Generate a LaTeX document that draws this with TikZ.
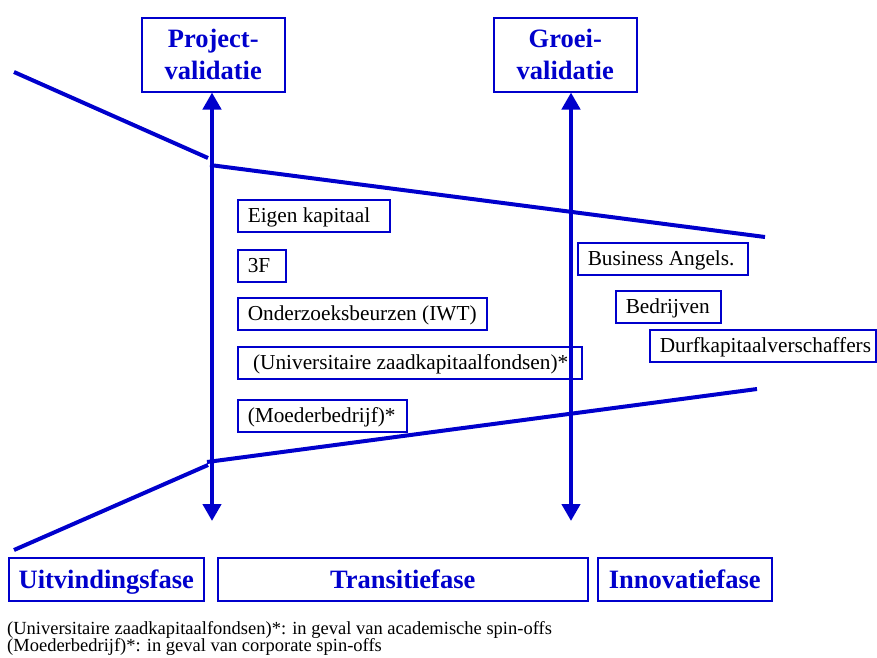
\documentclass[tikz,border=0pt]{standalone}
\usepackage{fontspec}
\setmainfont{Liberation Serif}
\usetikzlibrary{arrows.meta}
\definecolor{fasblue}{RGB}{0,0,204}
\tikzset{
  valbox/.style={draw=fasblue, line width=1.5pt, text=fasblue, font=\fontsize{26.5}{32}\selectfont\bfseries,
    align=center, minimum width=143pt, minimum height=74pt, anchor=north west, inner sep=0pt},
  fundbox/.style={draw=fasblue, line width=1.5pt, font=\fontsize{21.3}{26}\selectfont, inner xsep=10pt,
    inner ysep=0pt, minimum height=32pt, text height=17pt, text depth=3pt, anchor=north west},
  fasebox/.style={draw=fasblue, line width=1.5pt, text=fasblue, font=\fontsize{26.5}{32}\selectfont\bfseries,
    minimum height=43pt, text height=18pt, text depth=0pt, anchor=north west, inner sep=0pt},
  faseline/.style={fasblue, line width=4pt},
  faseaxis/.style={fasblue, line width=4.5pt, {Triangle[width=18pt,length=17pt]}-{Triangle[width=18pt,length=17pt]}},
  note/.style={font=\fontsize{18.5}{18}\selectfont, anchor=base west, inner sep=0pt}
}
\begin{document}
\begin{tikzpicture}[x=1pt,y=-1pt]
    \useasboundingbox (0,0) rectangle (877,657);

    % validatie
    \node[valbox] (pv) at (141,17) {Project-\\validatie};
    \node[valbox] (gv) at (493,17) {Groei-\\validatie};
    \coordinate (pvend) at (212,521);
    \coordinate (gvend) at (571,521);
    \draw[faseaxis] (pv.south -| pvend) -- (pvend);
    \draw[faseaxis] (gv.south -| gvend) -- (gvend);

    % grenzen van de fasen
    \coordinate (bl1) at (14,72);   \coordinate (bl2) at (208,158);
    \coordinate (bu1) at (210,165); \coordinate (bu2) at (765,237);
    \coordinate (ol1) at (14,550);  \coordinate (ol2) at (208,465);
    \coordinate (ou1) at (207,462); \coordinate (ou2) at (757,389);
    \draw[faseline] (bl1) -- (bl2);
    \draw[faseline] (bu1) -- (bu2);
    \draw[faseline] (ol1) -- (ol2);
    \draw[faseline] (ou1) -- (ou2);

    % financiering
    \node[fundbox] (ek) at (237,199) {\makebox[132pt][l]{Eigen kapitaal}};
    \node[fundbox] (ff) at (237,249) {\makebox[28pt][l]{3F}};
    \node[fundbox] (iwt) at (237,297) {\makebox[229pt][l]{Onderzoeksbeurzen (IWT)}};
    \node[fundbox] (uzf) at (237,346) {\makebox[324pt][l]{\ (Universitaire zaadkapitaalfondsen)*}};
    \node[fundbox] (moeder) at (237,399) {\makebox[149pt][l]{(Moederbedrijf)*}};
    \node[fundbox] (ba) at (577,242) {\makebox[150pt][l]{Business Angels.}};
    \node[fundbox] (bedr) at (615,290) {\makebox[85pt][l]{Bedrijven}};
    \node[fundbox] (durf) at (649,329) {\makebox[206pt][l]{Durfkapitaalverschaffers}};

    % fasen
    \node[fasebox, minimum width=195pt] (uitv) at (8,557) {Uitvindingsfase};
    \node[fasebox, minimum width=370pt] (trans) at (217,557) {Transitiefase};
    \node[fasebox, minimum width=174pt] (innov) at (597,557) {Innovatiefase};

    \node[note] (note1) at (7,634) {(Universitaire zaadkapitaalfondsen)*: in geval van academische spin-offs};
    \node[note] (note2) at (7,651) {(Moederbedrijf)*: in geval van corporate spin-offs};
\end{tikzpicture}
\end{document}
